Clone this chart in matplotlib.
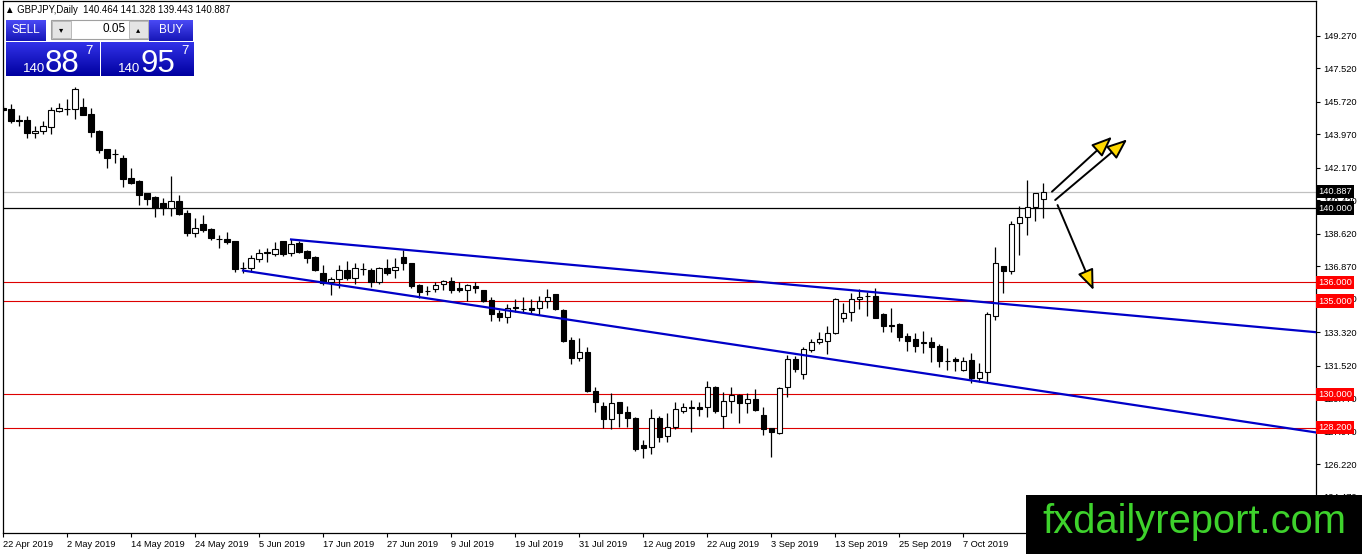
import matplotlib
matplotlib.use('Agg')
import matplotlib.pyplot as plt
import numpy as np
import pandas as pd
from matplotlib.colors import LinearSegmentedColormap
from matplotlib.patches import Rectangle
from matplotlib.transforms import blended_transform_factory

plt.rcParams['font.family'] = ['Liberation Sans', 'DejaVu Sans']

W, H = 1362, 554

# daily GBPJPY candles, 22 Apr 2019 -> 21 Oct 2019
opens = [145.40, 145.31, 144.72, 144.73, 144.03, 144.16, 144.37, 145.23, 145.35, 145.31,
         145.41, 145.04, 144.16, 143.17, 142.92, 142.67, 141.60, 141.45, 140.79, 140.61,
         140.25, 140.02, 140.38, 139.72, 138.67, 139.12, 138.85, 138.35, 138.33, 138.23,
         136.80, 136.76, 137.26, 137.61, 137.53, 138.23, 137.56, 138.10, 137.69, 137.35,
         136.49, 136.00, 136.18, 136.67, 136.22, 136.72, 136.67, 136.00, 136.76, 136.67,
         137.38, 137.03, 135.86, 135.56, 135.63, 135.90, 136.08, 135.72, 135.59, 135.81,
         135.59, 135.05, 134.34, 134.16, 134.70, 134.58, 134.64, 134.64, 135.00, 135.36,
         134.52, 132.90, 131.92, 132.27, 130.16, 129.35, 128.64, 129.55, 129.05, 128.73,
         127.26, 127.13, 128.73, 127.74, 128.21, 129.10, 129.26, 129.32, 129.32, 130.36,
         128.83, 129.64, 129.95, 129.53, 129.73, 128.87, 128.19, 127.89, 130.36, 131.87,
         131.06, 132.37, 132.78, 132.85, 133.26, 134.07, 134.39, 135.09, 135.25, 135.27,
         134.29, 133.72, 133.75, 133.12, 132.96, 132.76, 132.78, 132.58, 131.76, 131.88,
         131.30, 131.83, 130.84, 131.17, 134.21, 136.88, 136.63, 139.18, 139.50, 140.04,
         140.464]
highs = [145.50, 145.59, 145.00, 144.95, 144.40, 144.66, 145.45, 145.66, 145.86, 146.52,
         145.90, 145.36, 144.19, 143.20, 143.20, 142.85, 142.13, 141.50, 140.82, 140.65,
         140.52, 141.72, 140.70, 139.89, 139.45, 139.62, 138.91, 138.55, 138.69, 138.23,
         137.11, 137.47, 137.78, 137.83, 138.16, 138.23, 138.33, 138.23, 137.74, 137.40,
         136.94, 136.31, 136.94, 137.15, 137.03, 137.06, 136.79, 136.84, 137.24, 137.30,
         137.74, 137.06, 135.90, 135.80, 136.04, 136.13, 136.31, 136.00, 135.90, 136.04,
         135.59, 135.23, 134.52, 134.82, 135.10, 135.20, 135.10, 135.28, 135.64, 135.36,
         134.55, 133.05, 133.00, 132.54, 130.39, 129.59, 130.04, 129.59, 129.35, 128.78,
         127.53, 129.18, 128.82, 128.96, 129.59, 129.50, 129.66, 129.59, 130.70, 130.43,
         130.12, 130.36, 130.00, 130.07, 130.25, 129.32, 128.19, 130.39, 132.10, 132.04,
         132.54, 132.96, 133.35, 133.67, 135.18, 134.88, 135.41, 135.63, 135.50, 135.72,
         134.34, 134.60, 133.80, 133.26, 133.26, 133.38, 133.08, 132.67, 132.45, 132.00,
         132.00, 132.19, 131.65, 134.42, 137.92, 136.88, 139.30, 140.11, 141.50, 140.79,
         141.328]
lows = [145.20, 144.59, 144.41, 143.76, 143.76, 144.00, 144.00, 145.16, 145.02, 144.77,
        144.99, 143.83, 142.97, 142.17, 142.44, 141.15, 141.29, 140.16, 140.16, 139.50,
        139.62, 139.57, 139.62, 138.49, 138.46, 138.73, 138.28, 137.83, 138.06, 136.58,
        136.52, 136.58, 137.11, 137.11, 137.42, 137.44, 137.44, 137.56, 137.06, 136.60,
        135.86, 135.32, 135.72, 136.13, 135.90, 136.40, 135.77, 135.90, 136.40, 136.25,
        136.67, 135.68, 135.18, 135.35, 135.50, 135.59, 135.41, 135.50, 135.00, 135.45,
        134.93, 133.92, 133.92, 133.80, 134.40, 134.40, 134.30, 134.25, 134.64, 134.50,
        132.81, 131.60, 131.79, 130.12, 129.05, 128.15, 128.10, 128.24, 128.24, 126.95,
        126.54, 126.77, 127.44, 127.44, 128.10, 128.96, 127.95, 128.82, 128.75, 128.96,
        128.15, 128.96, 128.46, 128.96, 129.10, 127.80, 126.63, 127.85, 129.85, 131.20,
        130.81, 132.27, 132.67, 132.13, 133.23, 133.86, 133.92, 134.57, 134.20, 134.07,
        133.32, 133.32, 132.85, 132.31, 132.27, 132.20, 131.70, 131.47, 131.30, 131.25,
        131.24, 130.58, 130.66, 130.57, 133.98, 135.45, 136.45, 137.47, 138.55, 139.32,
        139.443]
closes = [145.28, 144.70, 144.70, 144.03, 144.14, 144.41, 145.27, 145.37, 145.30, 146.38,
          145.02, 144.10, 143.12, 142.70, 142.88, 141.56, 141.33, 140.70, 140.50, 139.98,
          139.98, 140.38, 139.66, 138.67, 138.91, 138.82, 138.37, 138.31, 138.19, 136.70,
          136.78, 137.30, 137.56, 137.59, 137.78, 137.53, 138.05, 137.65, 137.33, 136.67,
          135.95, 136.18, 136.67, 136.22, 136.76, 136.70, 136.04, 136.79, 136.49, 136.84,
          137.03, 135.81, 135.50, 135.54, 135.86, 136.08, 135.59, 135.59, 135.86, 135.68,
          135.00, 134.29, 134.16, 134.61, 134.60, 134.56, 134.52, 135.00, 135.23, 134.55,
          132.85, 131.93, 132.27, 130.18, 129.59, 128.64, 129.50, 128.99, 128.69, 127.03,
          127.11, 128.69, 127.67, 128.21, 129.18, 129.28, 129.28, 129.21, 130.39, 129.10,
          129.64, 129.95, 129.53, 129.73, 129.14, 128.12, 127.97, 130.31, 131.87, 131.33,
          132.42, 132.78, 132.94, 133.26, 135.11, 134.34, 135.09, 135.20, 135.28, 134.10,
          133.67, 133.68, 133.08, 132.85, 132.58, 132.79, 132.54, 131.77, 131.78, 131.77,
          131.77, 130.84, 131.17, 134.29, 137.06, 136.63, 139.12, 139.50, 140.04, 140.79,
          140.887]

dates = pd.bdate_range('2019-04-22', periods=len(opens))

red_levels = [136.0, 135.0, 130.0, 128.2]
round_level = 140.0
bid = 140.887
header = '\u25b2 GBPJPY,Daily  140.464 141.328 139.443 140.887'

price_ticks = [149.27, 147.52, 145.72, 143.97, 142.17, 140.42, 138.62, 136.87,
               135.12, 133.32, 131.52, 129.77, 127.97, 126.22, 124.47]

# trend channel anchors (bar index, price)
upper_line = [(36, 138.31), (164.5, 133.31)]
lower_line = [(30, 136.64), (164.5, 127.91)]

# scenario arrows (start, end)
arrows = [((131.1, 140.88), (138.6, 143.83)),
          ((131.5, 140.43), (140.5, 143.69)),
          ((131.8, 140.16), (136.3, 135.59))]

fig = plt.figure(figsize=(W / 100, H / 100), dpi=100)
ax = fig.add_axes([3 / W, 21 / H, 1313 / W, 532 / H])

o = np.array(opens); h = np.array(highs); l = np.array(lows); c = np.array(closes)
x = np.arange(len(o))
up = c >= o

for lv in red_levels:
    ax.axhline(lv, color='#dd0000', lw=0.8, zorder=1)
ax.axhline(round_level, color='black', lw=0.9, zorder=1)
ax.axhline(bid, color='#c0c0c0', lw=0.9, zorder=1)

ax.vlines(x, l, h, color='black', lw=0.9, zorder=3)
ax.bar(x, np.abs(c - o), bottom=np.minimum(o, c), width=0.64,
       color=np.where(up, 'white', 'black'), edgecolor='black', linewidth=0.8, zorder=4)

for line in (upper_line, lower_line):
    xs, ys = zip(*line)
    ax.plot(xs, ys, color='#0000c8', lw=1.6, zorder=5)

for (x0, y0), (x1, y1) in arrows:
    ax.annotate('', xy=(x1, y1), xytext=(x0, y0),
                arrowprops=dict(arrowstyle='-|>,head_length=0.5,head_width=0.2',
                                mutation_scale=25, fc='#ffd800', ec='black', lw=1.4,
                                shrinkA=0, shrinkB=0), zorder=6)

ax.set_xlim(0, 164.1)
ax.set_ylim(122.53, 151.13)

ax.yaxis.tick_right()
ax.set_yticks(price_ticks)
ax.set_yticklabels([f'{v:.3f}' for v in price_ticks])
ax.tick_params(axis='y', direction='out', length=3, width=0.8, pad=2, labelsize=6.7)

xt = list(range(0, len(o), 8))
ax.set_xticks(xt)
ax.set_xticklabels([f'{dates[i].day} {dates[i].strftime("%b %Y")}' for i in xt])
for lbl in ax.get_xticklabels():
    lbl.set_ha('left')
ax.tick_params(axis='x', direction='out', length=3, width=0.8, pad=2, labelsize=6.7)
for sp in ax.spines.values():
    sp.set_linewidth(0.9)

# price tags on the right scale
tr = blended_transform_factory(ax.transAxes, ax.transData)
tags = [(bid, 'black'), (round_level, 'black')] + [(lv, '#ff0000') for lv in red_levels]
for price, fc in tags:
    ax.text(1.0 + 2 / 1313, price, f'{price:.3f}', transform=tr, ha='left', va='center',
            fontsize=6.7, color='white', clip_on=False, zorder=10,
            bbox=dict(boxstyle='square,pad=0.22', fc=fc, ec='none'))

fig.text(5 / W, 1 - 10 / H, header, fontsize=6.9, va='center')


# one-click trading panel
def fx(px):
    return px / W


def fy(py):
    return 1 - py / H


def grad_box(x0, y0, w, hh, colors):
    a = fig.add_axes([fx(x0), fy(y0 + hh), w / W, hh / H])
    cmap = LinearSegmentedColormap.from_list('g', colors)
    a.imshow(np.linspace(0, 1, 60).reshape(-1, 1), aspect='auto', cmap=cmap,
             extent=[0, 1, 0, 1])
    a.set_axis_off()
    return a


btn = ['#4a4af5', '#1616b8']
price_col = ['#3232e8', '#0000a0']
grad_box(6, 20, 40, 21, btn)
grad_box(149, 20, 44, 21, btn)
grad_box(6, 42, 93, 34, price_col)
grad_box(101, 42, 92, 34, price_col)

fig.add_artist(Rectangle((fx(51), fy(39)), 97 / W, 19 / H, transform=fig.transFigure,
                         fc='white', ec='#a0a0a0', lw=0.8))
for bx, sym in ((52, '\u25be'), (129, '\u25b4')):
    fig.add_artist(Rectangle((fx(bx), fy(38)), 19 / W, 17 / H, transform=fig.transFigure,
                             fc='#e4e4e4', ec='#b0b0b0', lw=0.6))
    fig.text(fx(bx + 9.5), fy(29.5), sym, fontsize=6, ha='center', va='center',
             family=['DejaVu Sans'])
fig.text(fx(126), fy(29.5), '0.05', fontsize=8.5, ha='right', va='center')
fig.text(fx(26), fy(30), 'SELL', fontsize=8.5, color='white', ha='center', va='center')
fig.text(fx(171), fy(30), 'BUY', fontsize=8.5, color='white', ha='center', va='center')

for x_small, x_big, x_sup, big in ((23, 45, 85, '88'), (118, 140, 181, '95')):
    fig.text(fx(x_small), fy(72), '140', fontsize=9.5, color='white', va='baseline')
    fig.text(fx(x_big), fy(72), big, fontsize=22.5, color='white', va='baseline')
    fig.text(fx(x_sup), fy(45), '7', fontsize=9.5, color='white', va='top')

# watermark
fig.add_artist(Rectangle((fx(1026), 0), 336 / W, 59 / H, transform=fig.transFigure,
                         fc='black', ec='none', zorder=20))
fig.text(fx(1042), fy(533), 'fxdailyreport.com', fontsize=28.7, color='#3ed22c',
         va='baseline', zorder=21)

fig.savefig('out.png', dpi=100)
